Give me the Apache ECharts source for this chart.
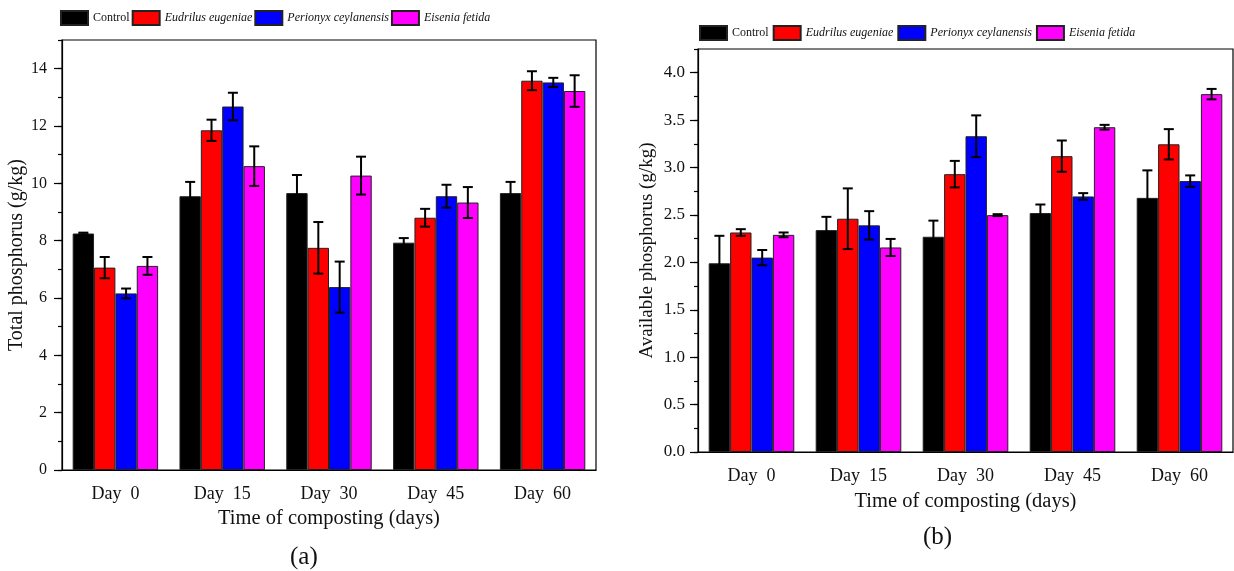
<!DOCTYPE html>
<html>
<head>
<meta charset="utf-8">
<title>Phosphorus during composting</title>
<script src="https://cdn.jsdelivr.net/npm/echarts@6.0.0/dist/echarts.min.js"></script>
<style>
  html, body { margin: 0; padding: 0; background: #fff; }
  #chart { width: 1234px; height: 571px; }
</style>
</head>
<body>
<div id="chart"></div>
<script>
// categories and series
var categories = ['Day  0', 'Day  15', 'Day  30', 'Day  45', 'Day  60'];
var seriesNames = ['Control', 'Eudrilus eugeniae', 'Perionyx ceylanensis', 'Eisenia fetida'];
var colors = ['#000000', '#ff0000', '#0000ff', '#ff00ff'];

// (a) total phosphorus (g/kg), mean and error
var tpControl = [8.25, 9.55, 9.66, 7.93, 9.66];
var tpControlErr = [0.03, 0.50, 0.63, 0.16, 0.39];
var tpEudrilus = [7.06, 11.85, 7.75, 8.80, 13.58];
var tpEudrilusErr = [0.37, 0.37, 0.90, 0.31, 0.33];
var tpPerionyx = [6.16, 12.68, 6.38, 9.55, 13.52];
var tpPerionyxErr = [0.17, 0.48, 0.89, 0.40, 0.16];
var tpEisenia = [7.12, 10.60, 10.27, 9.33, 13.22];
var tpEiseniaErr = [0.31, 0.69, 0.66, 0.54, 0.55];

// (b) available phosphorus (g/kg), mean and error
var apControl = [1.99, 2.34, 2.27, 2.52, 2.68];
var apControlErr = [0.29, 0.14, 0.17, 0.09, 0.29];
var apEudrilus = [2.315, 2.46, 2.93, 3.12, 3.245];
var apEudrilusErr = [0.035, 0.32, 0.14, 0.165, 0.16];
var apPerionyx = [2.05, 2.39, 3.33, 2.695, 2.857];
var apPerionyxErr = [0.08, 0.15, 0.22, 0.035, 0.06];
var apEisenia = [2.29, 2.157, 2.498, 3.425, 3.774];
var apEiseniaErr = [0.025, 0.09, 0.01, 0.025, 0.055];

var tpValues = [tpControl, tpEudrilus, tpPerionyx, tpEisenia];
var tpErrors = [tpControlErr, tpEudrilusErr, tpPerionyxErr, tpEiseniaErr];
var apValues = [apControl, apEudrilus, apPerionyx, apEisenia];
var apErrors = [apControlErr, apEudrilusErr, apPerionyxErr, apEiseniaErr];

var font = 'Liberation Serif';
var ink = '#111';
var groupShare = 0.8; // bars take 80% of each category

var chart = echarts.init(document.getElementById('chart'));

// error bars drawn next to each bar of the group
function errorBarItem(params, api) {
  var cat = api.value(0);
  var val = api.value(1);
  var err = api.value(2);
  var idx = api.value(3);
  var n = seriesNames.length;
  var barW = api.size([1, 0])[0] * groupShare / n;
  var off = (idx - (n - 1) / 2) * barW;
  var hi = api.coord([cat, val + err]);
  var lo = api.coord([cat, val - err]);
  var x = hi[0] + off;
  var cap = 5;
  var style = { stroke: '#000', lineWidth: 2 };
  return {
    type: 'group',
    children: [
      { type: 'line', shape: { x1: x, y1: hi[1], x2: x, y2: lo[1] }, style: style },
      { type: 'line', shape: { x1: x - cap, y1: hi[1], x2: x + cap, y2: hi[1] }, style: style },
      { type: 'line', shape: { x1: x - cap, y1: lo[1], x2: x + cap, y2: lo[1] }, style: style }
    ]
  };
}

function errorData(values, errors) {
  var out = [];
  values.forEach(function (arr, s) {
    arr.forEach(function (v, c) {
      out.push([c, v, errors[s][c], s]);
    });
  });
  return out;
}

function legendFor(left, top, gap) {
  return {
    data: seriesNames,
    left: left,
    top: top,
    padding: 0,
    icon: 'rect',
    itemWidth: 27,
    itemHeight: 14,
    itemGap: gap,
    textStyle: {
      fontFamily: font, fontSize: 12, color: ink,
      rich: { i: { fontFamily: font, fontSize: 12, fontStyle: 'italic', color: ink } }
    },
    formatter: function (name) {
      return name === 'Control' ? name : '{i|' + name + '}';
    }
  };
}

function xAxes(gridIndex, nameGap) {
  return [
    {
      gridIndex: gridIndex,
      type: 'category',
      data: categories,
      position: 'bottom',
      name: 'Time of composting (days)',
      nameLocation: 'middle',
      nameGap: nameGap,
      nameTextStyle: { fontFamily: font, fontSize: 20.5, color: ink },
      axisLine: { onZero: false, lineStyle: { color: '#000', width: 1.2 } },
      axisTick: { alignWithLabel: true, length: 8, lineStyle: { color: '#000', width: 1.5 } },
      axisLabel: { fontFamily: font, fontSize: 18, color: ink, margin: 15 }
    },
    {
      gridIndex: gridIndex,
      type: 'category',
      data: categories,
      position: 'bottom',
      axisLine: { show: false, onZero: false },
      axisTick: { length: 4, lineStyle: { color: '#000', width: 1.2 } },
      axisLabel: { show: false }
    }
  ];
}

function yAxes(gridIndex, max, major, minor, digits, title, titleSize, labelSize, labelMargin, nameGap) {
  return [
    {
      gridIndex: gridIndex,
      type: 'value',
      position: 'left',
      min: 0,
      max: max,
      interval: major,
      name: title,
      nameLocation: 'middle',
      nameGap: nameGap,
      nameTextStyle: { fontFamily: font, fontSize: titleSize, color: ink },
      splitLine: { show: false },
      axisLine: { show: true, lineStyle: { color: '#000', width: 1.2 } },
      axisTick: { show: true, length: 8, lineStyle: { color: '#000', width: 1.2 } },
      axisLabel: {
        fontFamily: font, fontSize: labelSize, color: ink, margin: labelMargin,
        showMaxLabel: false,
        formatter: function (v) { return v.toFixed(digits); }
      }
    },
    {
      gridIndex: gridIndex,
      type: 'value',
      position: 'left',
      min: 0,
      max: max,
      interval: minor,
      splitLine: { show: false },
      axisLine: { show: false },
      axisTick: { show: true, length: 4, lineStyle: { color: '#000', width: 1.2 } },
      axisLabel: { show: false }
    }
  ];
}

function barSeries(values, xIdx, yIdx) {
  return values.map(function (arr, s) {
    return {
      name: seriesNames[s],
      type: 'bar',
      xAxisIndex: xIdx,
      yAxisIndex: yIdx,
      data: arr,
      barGap: '0%',
      barCategoryGap: '20%',
      itemStyle: { color: colors[s], borderColor: '#222', borderWidth: 1 }
    };
  });
}

var option = {
  animation: false,
  backgroundColor: '#fff',
  legend: [legendFor(60, 10, 2), legendFor(699, 25, 4)],
  grid: [
    { left: 62, top: 40, width: 534, height: 430, show: true, borderColor: '#000', borderWidth: 1.2 },
    { left: 698, top: 49, width: 535, height: 403, show: true, borderColor: '#000', borderWidth: 1.2 }
  ],
  xAxis: xAxes(0, 38).concat(xAxes(1, 39)),
  yAxis: yAxes(0, 15, 2, 1, 0, 'Total phosphorus (g/kg)', 20, 16, 15, 32)
    .concat(yAxes(1, 4.25, 0.5, 0.25, 1, 'Available phosphorus (g/kg)', 19, 17, 13, 41)),
  graphic: [
    { type: 'text', left: 290, top: 545, style: { text: '(a)', fontFamily: font, fontSize: 25, fill: ink } },
    { type: 'text', left: 923, top: 525, style: { text: '(b)', fontFamily: font, fontSize: 25, fill: ink } }
  ],
  series: barSeries(tpValues, 0, 0)
    .concat(barSeries(apValues, 2, 2))
    .concat([
      {
        type: 'custom',
        xAxisIndex: 0,
        yAxisIndex: 0,
        z: 5,
        renderItem: errorBarItem,
        data: errorData(tpValues, tpErrors)
      },
      {
        type: 'custom',
        xAxisIndex: 2,
        yAxisIndex: 2,
        z: 5,
        renderItem: errorBarItem,
        data: errorData(apValues, apErrors)
      }
    ])
};

chart.setOption(option);
</script>
</body>
</html>
